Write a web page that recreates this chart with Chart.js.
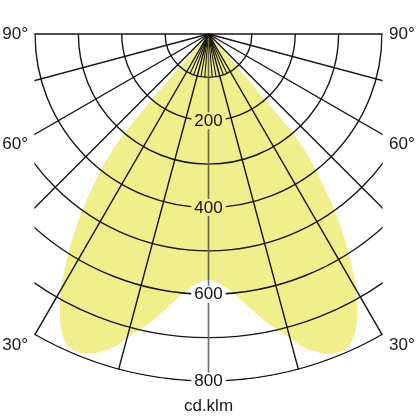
<!DOCTYPE html>
<html>
<head>
<meta charset="utf-8">
<script src="https://cdn.jsdelivr.net/npm/chart.js@4.4.1/dist/chart.umd.min.js"></script>
<style>
html,body{margin:0;padding:0;background:#fff;}
#wrap{width:416px;height:416px;position:relative;}
</style>
</head>
<body>
<div id="wrap"><canvas id="c"></canvas></div>
<script>
// Light distribution: angle from nadir (deg, negative = left) and intensity (cd/klm)
const curveAngles = [-90, -41.2, -41, -40.7, -40.3, -39.5, -37.8, -35.8, -33.6, -31.2, -30, -28.6, -27, -25.5, -24, -22.5, -20.5, -18.5, -16.5, -15, -13.5, -11.4, -8.7, -6, -3.3, -1.5, 0,
  1.5, 3.3, 6, 8.7, 11.4, 13.5, 15, 16.5, 18.5, 20.5, 22.5, 24, 25.5, 27, 28.6, 30, 31.2, 33.6, 35.8, 37.8, 39.5, 40.3, 40.7, 41, 41.2, 90];
const curveIntensity = [0, 0, 120, 230, 300, 355, 417, 493, 567, 644, 680, 715, 752, 776, 790, 793, 787, 772, 750, 725, 705, 678, 640, 605, 580, 570, 567,
  570, 580, 605, 640, 678, 705, 725, 750, 772, 787, 793, 790, 776, 752, 715, 680, 644, 567, 493, 417, 355, 300, 230, 120, 0, 0];

// Grid
const ringValues = [100, 200, 300, 400, 500, 600, 700, 800];
const spokeAngles = [-90, -75, -60, -45, -30, -15, 15, 30, 45, 60, 75, 90];
const fineSpokeAngles = [-25, -20, -10, -5, 5, 10, 20, 25];
const fineSpokeReach = 100;

// Labels
const ringLabelValues = [200, 400, 600, 800];
const ringLabelTexts = ['200', '400', '600', '800'];
const sideAngleValues = [90, 60, 30];
const sideAngleTexts = ['90°', '60°', '30°'];
const unitText = 'cd.klm';

const toRad = d => d * Math.PI / 180;
const points = curveAngles.map((a, i) => ({
  x: curveIntensity[i] * Math.sin(toRad(a)),
  y: -curveIntensity[i] * Math.cos(toRad(a))
}));

const FONT = '17px "Liberation Sans", Arial, Helvetica, sans-serif';

const polarGrid = {
  id: 'polarGrid',
  beforeDraw(chart) {
    const ctx = chart.ctx;
    ctx.save();
    ctx.fillStyle = '#ffffff';
    ctx.fillRect(0, 0, chart.width, chart.height);
    ctx.restore();
  },
  beforeDatasetsDraw(chart) {
    const {ctx, chartArea: a, scales: {x, y}} = chart;
    const cx = x.getPixelForValue(0), cy = y.getPixelForValue(0);
    const rad = v => x.getPixelForValue(v) - cx;
    const rMax = rad(ringValues[ringValues.length - 1]);
    ctx.save();
    ctx.beginPath();
    ctx.rect(a.left - 0.6, a.top - 3, a.right - a.left + 1.2, a.bottom - a.top + 6);
    ctx.clip();
    ctx.beginPath();
    ctx.arc(cx, cy, rMax + 0.8, 0, Math.PI * 2);
    ctx.clip();
    ctx.strokeStyle = '#161616';
    ctx.lineWidth = 1.4;
    ringValues.forEach(v => {
      ctx.beginPath();
      ctx.arc(cx, cy, rad(v), 0, Math.PI);
      ctx.stroke();
    });
    spokeAngles.forEach(d => {
      const t = toRad(d);
      ctx.beginPath();
      ctx.moveTo(cx, cy);
      ctx.lineTo(cx + Math.sin(t) * rMax * 2, cy + Math.cos(t) * rMax * 2);
      ctx.stroke();
    });
    ctx.lineWidth = 1.1;
    const rf = rad(fineSpokeReach);
    fineSpokeAngles.forEach(d => {
      const t = toRad(d);
      ctx.beginPath();
      ctx.moveTo(cx, cy);
      ctx.lineTo(cx + Math.sin(t) * rf, cy + Math.cos(t) * rf);
      ctx.stroke();
    });
    // dark hub where the spokes meet
    ctx.fillStyle = '#111';
    ctx.beginPath();
    ctx.arc(cx, cy, 4.5, 0, Math.PI);
    ctx.fill();
    ctx.strokeStyle = '#6c6c6c';
    ctx.lineWidth = 1.6;
    ctx.beginPath();
    ctx.moveTo(cx, cy + 4);
    ctx.lineTo(cx, cy + rMax);
    ctx.stroke();
    ctx.restore();

    // radial value labels
    ctx.save();
    ctx.font = FONT;
    ctx.textAlign = 'center';
    ctx.textBaseline = 'middle';
    ringLabelValues.forEach((v, i) => {
      const yy = y.getPixelForValue(-v);
      const w = ctx.measureText(ringLabelTexts[i]).width;
      ctx.fillStyle = '#ffffff';
      ctx.fillRect(cx - w / 2 - 3, yy - 8.5, w + 6, 17);
      ctx.fillStyle = '#141414';
      ctx.fillText(ringLabelTexts[i], cx, yy + 0.5);
    });
    ctx.restore();

    // fill blends with grid (lines stay visible through the yellow)
    ctx.save();
    ctx.globalCompositeOperation = 'multiply';
  },
  afterDatasetsDraw(chart) {
    const {ctx, chartArea: a, scales: {x, y}} = chart;
    ctx.restore();
    const cx = x.getPixelForValue(0);
    const offs = [0, 10, 11];
    ctx.save();
    ctx.font = FONT;
    ctx.fillStyle = '#1a1a1a';
    ctx.textBaseline = 'middle';
    sideAngleValues.forEach((d, i) => {
      const edgeX = x.max;
      const yv = d === 90 ? 0 : -edgeX / Math.tan(toRad(d));
      const yy = y.getPixelForValue(yv) + offs[i];
      ctx.textAlign = 'right';
      ctx.fillText(sideAngleTexts[i], a.left - 7, yy);
      ctx.textAlign = 'left';
      ctx.fillText(sideAngleTexts[i], a.right + 7, yy);
    });
    ctx.textAlign = 'center';
    ctx.textBaseline = 'alphabetic';
    ctx.fillText(unitText, cx, a.bottom + 30);
    ctx.restore();
  }
};

new Chart(document.getElementById('c'), {
  type: 'scatter',
  data: {
    datasets: [{
      data: points,
      showLine: true,
      fill: 'shape',
      backgroundColor: 'rgb(240,239,140)',
      borderColor: 'rgba(0,0,0,0)',
      borderWidth: 0,
      pointRadius: 0,
      tension: 0.3
    }]
  },
  options: {
    responsive: true,
    maintainAspectRatio: false,
    animation: false,
    layout: {padding: {left: 35, right: 34, top: 34, bottom: 35}},
    scales: {
      x: {type: 'linear', min: -400, max: 400, display: false},
      y: {type: 'linear', min: -800, max: 0, display: false}
    },
    plugins: {legend: {display: false}, tooltip: {enabled: false}}
  },
  plugins: [polarGrid]
});
</script>
</body>
</html>
